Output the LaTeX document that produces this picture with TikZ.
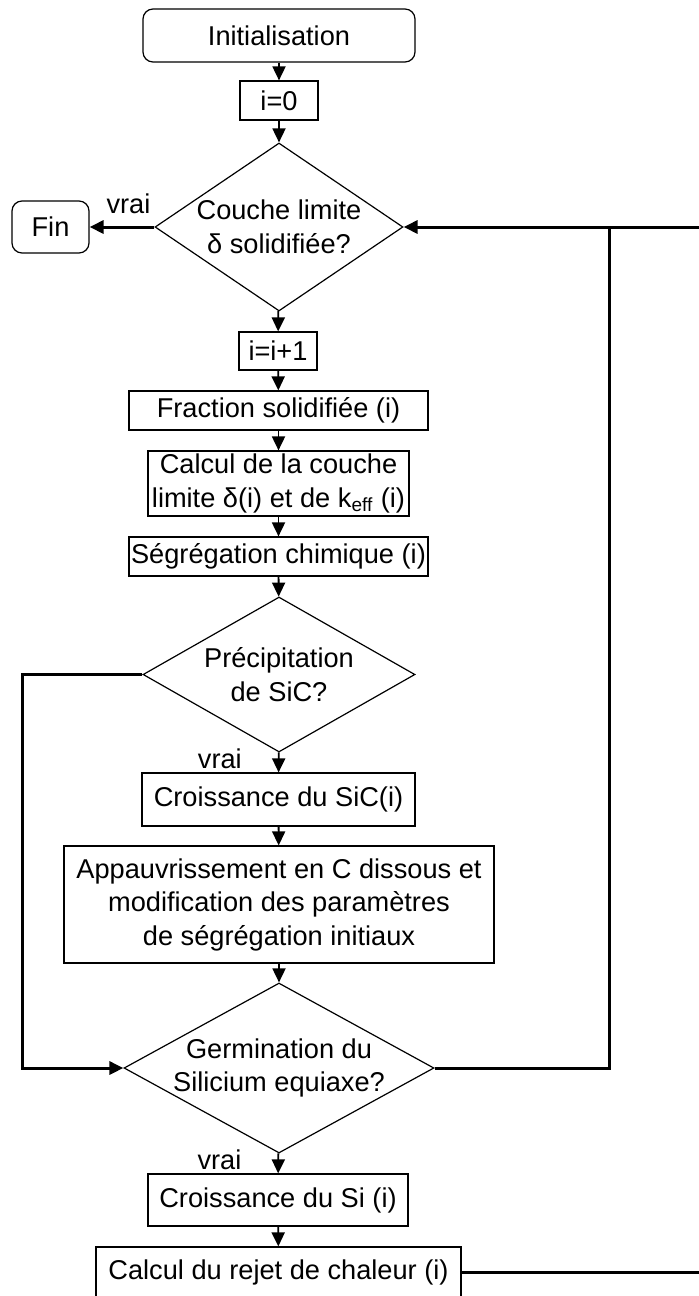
\documentclass[tikz,border=0pt]{standalone}
\usepackage{fontspec}
\setmainfont{Liberation Sans}
\usetikzlibrary{arrows.meta,shapes.geometric}

\tikzset{
  box/.style={draw, line width=0.6pt, inner sep=0pt, align=center},
  term/.style={box, rounded corners=5pt},
  decision/.style={draw, diamond, line width=0.6pt, inner sep=-14pt, align=center},
  flow/.style={line width=0.9pt, -{Triangle[length=7pt,width=6.5pt]}},
  back/.style={line width=1.5pt},
  tag/.style={inner sep=0pt},
}

\begin{document}
\begin{tikzpicture}[x=0.5pt,y=-0.5pt,font=\fontsize{13.6}{16.75}\selectfont]

\clip (0,0) rectangle (699,1296);

% nodes
\node[term, minimum width=136pt, minimum height=26.5pt] (init) at (279,35.5) {Initialisation};
\node[box, minimum width=39pt, minimum height=19.5pt] (izero) at (279,100.5) {i=0};
\node[decision, minimum width=124pt, minimum height=84pt] (d1) at (279,227) {Couche limite\\δ solidifiée?};
\node[term, minimum width=38.5pt, minimum height=26pt] (fin) at (50.5,227) {Fin};
\node[box, minimum width=39pt, minimum height=19pt] (incr) at (278,351) {i=i+1};
\node[box, minimum width=149.5pt, minimum height=19.5pt] (frac) at (278.5,410.5) {Fraction solidifiée (i)};
\node[box, minimum width=130.5pt, minimum height=32.5pt] (calc) at (278.5,483.5) {Calcul de la couche\\limite δ(i) et de k\textsubscript{eff} (i)};
\node[box, minimum width=149.5pt, minimum height=19.5pt] (segr) at (278.5,556.5) {Ségrégation chimique (i)};
\node[decision, minimum width=136pt, minimum height=77.5pt] (d2) at (279,674.5) {Précipitation\\de SiC?};
\node[box, minimum width=136.5pt, minimum height=26.5pt] (sic) at (278.5,799.5) {Croissance du SiC(i)};
\node[box, minimum width=215pt, minimum height=58.5pt] (appauv) at (279,904.5) {Appauvrissement en C dissous et\\modification des paramètres\\de ségrégation initiaux};
\node[decision, minimum width=155pt, minimum height=85pt] (d3) at (279,1068) {Germination du\\Silicium equiaxe?};
\node[box, minimum width=130pt, minimum height=26pt] (si) at (278,1200) {Croissance du Si (i)};
\node[box, minimum width=182.5pt, minimum height=25pt] (rejet) at (278.5,1272) {Calcul du rejet de chaleur (i)};

\coordinate (top) at (699,227);
\coordinate (bot) at (699,1272);

% main flow
\draw[flow] (init) -- (izero);
\draw[flow] (izero) -- (d1);
\draw[flow, back] (d1) -- node[tag, pos=0.4, above=6pt] {vrai} (fin);
\draw[flow] (d1) -- (incr);
\draw[flow] (incr) -- (frac);
\draw[flow] (frac) -- (calc);
\draw[flow] (calc) -- (segr);
\draw[flow] (segr) -- (d2);
\draw[flow] (d2) -- node[tag, pos=0.3, left=18pt] {vrai} (sic);
\draw[flow] (sic) -- (appauv);
\draw[flow] (appauv) -- (d3);
\draw[flow] (d3) -- node[tag, pos=0.33, left=18pt] {vrai} (si);
\draw[flow] (si) -- (rejet);

% loops
\draw[flow, back] (d2.west) -- ++(-120,0) |- (d3.west);
\draw[flow, back] (top) -- (d1.east);
\draw[back] (d3.east) -| (609,227);
\draw[back] (rejet.east) -- (bot);

\end{tikzpicture}
\end{document}
